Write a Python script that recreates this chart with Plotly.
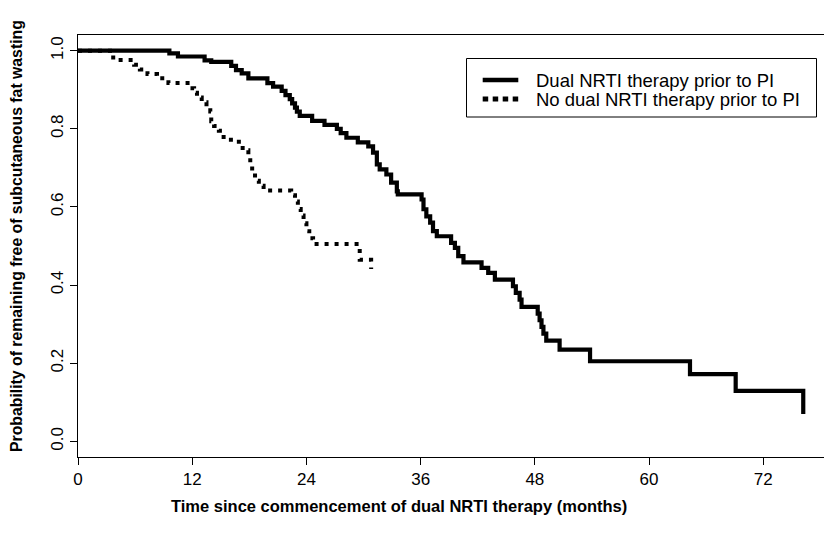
import plotly.graph_objects as go

# Kaplan-Meier step data (time in months, survival after each event)
dual_t = [0, 9.6, 10.5, 13.3, 14.0, 16.1, 16.6, 17.2, 17.9, 19.9, 20.5, 21.4, 21.8, 22.25, 22.5, 22.8,
          23.0, 23.3, 24.6, 25.9, 27.2, 27.6, 28.2, 29.4, 30.5, 31.0, 31.4, 31.7, 32.4, 32.9, 33.5,
          33.6, 36.1, 36.3, 36.6, 37.0, 37.3, 37.7, 39.2, 39.6, 39.95, 40.5, 42.4, 43.1, 43.8, 45.7,
          46.0, 46.4, 46.6, 48.3, 48.5, 48.7, 48.9, 49.2, 50.6, 53.8, 64.3, 69.1, 76.2]
dual_s = [1.0, 0.993, 0.985, 0.975, 0.971, 0.961, 0.950, 0.942, 0.929, 0.917, 0.908, 0.897, 0.886, 0.876, 0.865, 0.854,
          0.844, 0.833, 0.820, 0.810, 0.800, 0.789, 0.777, 0.765, 0.755, 0.739, 0.709, 0.696, 0.683, 0.662, 0.640,
          0.632, 0.619, 0.594, 0.576, 0.560, 0.538, 0.525, 0.508, 0.495, 0.474, 0.458, 0.444, 0.431, 0.414, 0.397,
          0.380, 0.363, 0.344, 0.327, 0.310, 0.293, 0.276, 0.258, 0.235, 0.205, 0.172, 0.129, 0.070]

nodual_t = [0, 3.7, 5.9, 6.5, 7.3, 8.3, 9.5, 11.8, 12.2, 12.5, 13.0, 13.5, 13.9, 14.0, 14.3, 14.8, 15.3,
            16.9, 17.3, 17.9, 18.1, 18.3, 18.6, 19.0, 19.5, 22.4, 22.8, 23.1, 23.4, 23.7, 24.0, 24.3, 24.7,
            29.6, 30.8]
nodual_s = [1.0, 0.976, 0.964, 0.952, 0.940, 0.929, 0.917, 0.904, 0.892, 0.880, 0.868, 0.856, 0.844, 0.819, 0.807, 0.795, 0.772,
            0.760, 0.745, 0.732, 0.707, 0.686, 0.667, 0.654, 0.642, 0.630, 0.614, 0.595, 0.578, 0.558, 0.538, 0.520, 0.505,
            0.465, 0.441]

x_ticks = [0, 12, 24, 36, 48, 60, 72]
y_ticks = [0.0, 0.2, 0.4, 0.6, 0.8, 1.0]
y_labels = ["0.0", "0.2", "0.4", "0.6", "0.8", "1.0"]

series_names = ["Dual NRTI therapy prior to PI", "No dual NRTI therapy prior to PI"]
x_title = "Time since commencement of dual NRTI therapy (months)"
y_title = "Probability of remaining free of subcutaneous fat wasting"

FONT = "Liberation Sans, Arial, sans-serif"
W, H = 824, 538
ML, MR, MT, MB = 78, 0, 35, 81
PW, PH = W - ML - MR, H - MT - MB


def px(xp):  # pixel x -> paper x
    return (xp - ML) / PW


def py(yp):  # pixel y -> paper y
    return (H - MB - yp) / PH


fig = go.Figure()
fig.add_trace(go.Scatter(x=dual_t, y=dual_s, mode="lines", line_shape="hv",
                         line=dict(color="black", width=4.2),
                         name=series_names[0], showlegend=False))
fig.add_trace(go.Scatter(x=nodual_t, y=nodual_s, mode="lines", line_shape="hv",
                         line=dict(color="black", width=4, dash="4px,6px"),
                         name=series_names[1], showlegend=False))

# legend box drawn as shapes + text annotations
shapes = [
    dict(type="rect", xref="paper", yref="paper", x0=px(466.5), x1=px(816.5), y0=py(117), y1=py(58.5),
         line=dict(color="black", width=1), fillcolor="white", layer="above"),
    dict(type="line", xref="paper", yref="paper", x0=px(482.7), x1=px(518.3), y0=py(80), y1=py(80),
         line=dict(color="black", width=4.5), layer="above"),
    dict(type="line", xref="paper", yref="paper", x0=px(482.7), x1=px(520), y0=py(99), y1=py(99),
         line=dict(color="black", width=5, dash="5.5px,4.5px"), layer="above"),
]
annotations = [
    dict(text=series_names[0], xref="paper", yref="paper", x=px(534), y=py(80),
         xanchor="left", yanchor="middle", showarrow=False, font=dict(size=18.5, family=FONT)),
    dict(text=series_names[1], xref="paper", yref="paper", x=px(534), y=py(99),
         xanchor="left", yanchor="middle", showarrow=False, font=dict(size=18.5, family=FONT)),
    dict(text="<b>" + x_title + "</b>", xref="paper", yref="paper", x=px(399), y=py(506),
         xanchor="center", yanchor="middle", showarrow=False, font=dict(size=16.5, family=FONT)),
    dict(text="<b>" + y_title + "</b>", xref="paper", yref="paper", x=px(16), y=py(236),
         xanchor="center", yanchor="middle", textangle=-90, showarrow=False,
         font=dict(size=15.8, family=FONT)),
]

fig.update_layout(
    width=W, height=H,
    margin=dict(l=ML, r=MR, t=MT, b=MB),
    paper_bgcolor="white", plot_bgcolor="white",
    font=dict(family=FONT, color="black", size=17),
    showlegend=False,
    shapes=shapes, annotations=annotations,
    xaxis=dict(range=[0, 78.38], tickvals=x_ticks, ticktext=[str(v) for v in x_ticks],
               ticks="outside", ticklen=7, tickwidth=1, tickcolor="black",
               showline=True, linecolor="black", linewidth=1, mirror=True,
               showgrid=False, zeroline=False, tickfont=dict(size=17)),
    yaxis=dict(range=[-0.04, 1.04], tickvals=y_ticks, ticktext=y_labels,
               ticks="outside", ticklen=7, tickwidth=1, tickcolor="black",
               showline=True, linecolor="black", linewidth=1, mirror=False,
               showgrid=False, zeroline=False, tickangle=-90, tickfont=dict(size=17)),
)

fig.write_html("out.html")
